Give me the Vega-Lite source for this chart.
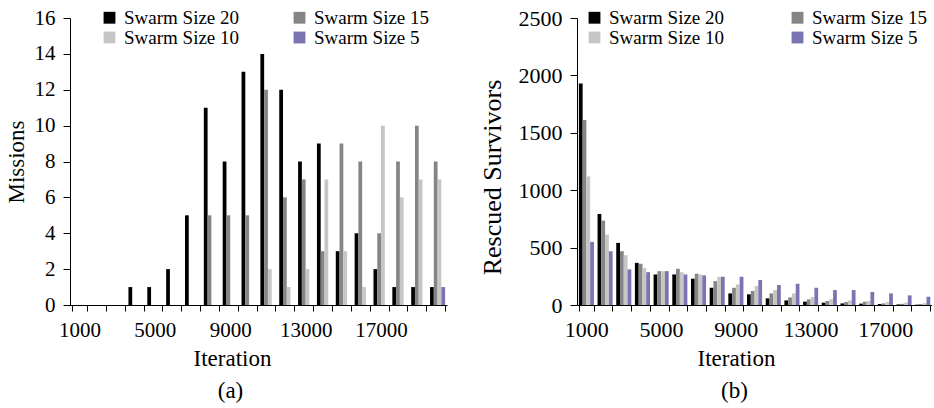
{
  "$schema": "https://vega.github.io/schema/vega-lite/v6.json",
  "padding": {"left": 5, "top": 7, "right": 0, "bottom": 0},
  "config": {
    "font": "Times New Roman, Liberation Serif, serif",
    "view": {"stroke": null},
    "axis": {"labelFont": "Times New Roman, Liberation Serif, serif", "titleFont": "Times New Roman, Liberation Serif, serif", "titleFontWeight": "normal", "labelColor": "black", "titleColor": "black", "domainColor": "black", "tickColor": "black", "grid": false, "tickSize": 6, "domainWidth": 1, "tickWidth": 1},
    "legend": {"labelFont": "Times New Roman, Liberation Serif, serif", "labelColor": "black"},
    "title": {"font": "Times New Roman, Liberation Serif, serif", "fontWeight": "normal", "color": "black"}
  },
  "datasets": {
    "missions": [
      {"iteration": 1000, "swarm": "Swarm Size 20", "missions": 0},
      {"iteration": 2000, "swarm": "Swarm Size 20", "missions": 0},
      {"iteration": 3000, "swarm": "Swarm Size 20", "missions": 0},
      {"iteration": 4000, "swarm": "Swarm Size 20", "missions": 1},
      {"iteration": 5000, "swarm": "Swarm Size 20", "missions": 1},
      {"iteration": 6000, "swarm": "Swarm Size 20", "missions": 2},
      {"iteration": 7000, "swarm": "Swarm Size 20", "missions": 5},
      {"iteration": 8000, "swarm": "Swarm Size 20", "missions": 11},
      {"iteration": 9000, "swarm": "Swarm Size 20", "missions": 8},
      {"iteration": 10000, "swarm": "Swarm Size 20", "missions": 13},
      {"iteration": 11000, "swarm": "Swarm Size 20", "missions": 14},
      {"iteration": 12000, "swarm": "Swarm Size 20", "missions": 12},
      {"iteration": 13000, "swarm": "Swarm Size 20", "missions": 8},
      {"iteration": 14000, "swarm": "Swarm Size 20", "missions": 9},
      {"iteration": 15000, "swarm": "Swarm Size 20", "missions": 3},
      {"iteration": 16000, "swarm": "Swarm Size 20", "missions": 4},
      {"iteration": 17000, "swarm": "Swarm Size 20", "missions": 2},
      {"iteration": 18000, "swarm": "Swarm Size 20", "missions": 1},
      {"iteration": 19000, "swarm": "Swarm Size 20", "missions": 1},
      {"iteration": 20000, "swarm": "Swarm Size 20", "missions": 1},
      {"iteration": 1000, "swarm": "Swarm Size 15", "missions": 0},
      {"iteration": 2000, "swarm": "Swarm Size 15", "missions": 0},
      {"iteration": 3000, "swarm": "Swarm Size 15", "missions": 0},
      {"iteration": 4000, "swarm": "Swarm Size 15", "missions": 0},
      {"iteration": 5000, "swarm": "Swarm Size 15", "missions": 0},
      {"iteration": 6000, "swarm": "Swarm Size 15", "missions": 0},
      {"iteration": 7000, "swarm": "Swarm Size 15", "missions": 0},
      {"iteration": 8000, "swarm": "Swarm Size 15", "missions": 5},
      {"iteration": 9000, "swarm": "Swarm Size 15", "missions": 5},
      {"iteration": 10000, "swarm": "Swarm Size 15", "missions": 5},
      {"iteration": 11000, "swarm": "Swarm Size 15", "missions": 12},
      {"iteration": 12000, "swarm": "Swarm Size 15", "missions": 6},
      {"iteration": 13000, "swarm": "Swarm Size 15", "missions": 7},
      {"iteration": 14000, "swarm": "Swarm Size 15", "missions": 3},
      {"iteration": 15000, "swarm": "Swarm Size 15", "missions": 9},
      {"iteration": 16000, "swarm": "Swarm Size 15", "missions": 8},
      {"iteration": 17000, "swarm": "Swarm Size 15", "missions": 4},
      {"iteration": 18000, "swarm": "Swarm Size 15", "missions": 8},
      {"iteration": 19000, "swarm": "Swarm Size 15", "missions": 10},
      {"iteration": 20000, "swarm": "Swarm Size 15", "missions": 8},
      {"iteration": 1000, "swarm": "Swarm Size 10", "missions": 0},
      {"iteration": 2000, "swarm": "Swarm Size 10", "missions": 0},
      {"iteration": 3000, "swarm": "Swarm Size 10", "missions": 0},
      {"iteration": 4000, "swarm": "Swarm Size 10", "missions": 0},
      {"iteration": 5000, "swarm": "Swarm Size 10", "missions": 0},
      {"iteration": 6000, "swarm": "Swarm Size 10", "missions": 0},
      {"iteration": 7000, "swarm": "Swarm Size 10", "missions": 0},
      {"iteration": 8000, "swarm": "Swarm Size 10", "missions": 0},
      {"iteration": 9000, "swarm": "Swarm Size 10", "missions": 0},
      {"iteration": 10000, "swarm": "Swarm Size 10", "missions": 0},
      {"iteration": 11000, "swarm": "Swarm Size 10", "missions": 2},
      {"iteration": 12000, "swarm": "Swarm Size 10", "missions": 1},
      {"iteration": 13000, "swarm": "Swarm Size 10", "missions": 2},
      {"iteration": 14000, "swarm": "Swarm Size 10", "missions": 7},
      {"iteration": 15000, "swarm": "Swarm Size 10", "missions": 3},
      {"iteration": 16000, "swarm": "Swarm Size 10", "missions": 1},
      {"iteration": 17000, "swarm": "Swarm Size 10", "missions": 10},
      {"iteration": 18000, "swarm": "Swarm Size 10", "missions": 6},
      {"iteration": 19000, "swarm": "Swarm Size 10", "missions": 7},
      {"iteration": 20000, "swarm": "Swarm Size 10", "missions": 7},
      {"iteration": 1000, "swarm": "Swarm Size 5", "missions": 0},
      {"iteration": 2000, "swarm": "Swarm Size 5", "missions": 0},
      {"iteration": 3000, "swarm": "Swarm Size 5", "missions": 0},
      {"iteration": 4000, "swarm": "Swarm Size 5", "missions": 0},
      {"iteration": 5000, "swarm": "Swarm Size 5", "missions": 0},
      {"iteration": 6000, "swarm": "Swarm Size 5", "missions": 0},
      {"iteration": 7000, "swarm": "Swarm Size 5", "missions": 0},
      {"iteration": 8000, "swarm": "Swarm Size 5", "missions": 0},
      {"iteration": 9000, "swarm": "Swarm Size 5", "missions": 0},
      {"iteration": 10000, "swarm": "Swarm Size 5", "missions": 0},
      {"iteration": 11000, "swarm": "Swarm Size 5", "missions": 0},
      {"iteration": 12000, "swarm": "Swarm Size 5", "missions": 0},
      {"iteration": 13000, "swarm": "Swarm Size 5", "missions": 0},
      {"iteration": 14000, "swarm": "Swarm Size 5", "missions": 0},
      {"iteration": 15000, "swarm": "Swarm Size 5", "missions": 0},
      {"iteration": 16000, "swarm": "Swarm Size 5", "missions": 0},
      {"iteration": 17000, "swarm": "Swarm Size 5", "missions": 0},
      {"iteration": 18000, "swarm": "Swarm Size 5", "missions": 0},
      {"iteration": 19000, "swarm": "Swarm Size 5", "missions": 0},
      {"iteration": 20000, "swarm": "Swarm Size 5", "missions": 1}
    ],
    "rescued": [
      {"iteration": 1000, "swarm": "Swarm Size 20", "survivors": 1930},
      {"iteration": 2000, "swarm": "Swarm Size 20", "survivors": 793},
      {"iteration": 3000, "swarm": "Swarm Size 20", "survivors": 541},
      {"iteration": 4000, "swarm": "Swarm Size 20", "survivors": 367},
      {"iteration": 5000, "swarm": "Swarm Size 20", "survivors": 266},
      {"iteration": 6000, "swarm": "Swarm Size 20", "survivors": 266},
      {"iteration": 7000, "swarm": "Swarm Size 20", "survivors": 229},
      {"iteration": 8000, "swarm": "Swarm Size 20", "survivors": 150},
      {"iteration": 9000, "swarm": "Swarm Size 20", "survivors": 101},
      {"iteration": 10000, "swarm": "Swarm Size 20", "survivors": 93},
      {"iteration": 11000, "swarm": "Swarm Size 20", "survivors": 58},
      {"iteration": 12000, "swarm": "Swarm Size 20", "survivors": 40},
      {"iteration": 13000, "swarm": "Swarm Size 20", "survivors": 29},
      {"iteration": 14000, "swarm": "Swarm Size 20", "survivors": 20},
      {"iteration": 15000, "swarm": "Swarm Size 20", "survivors": 14},
      {"iteration": 16000, "swarm": "Swarm Size 20", "survivors": 12},
      {"iteration": 17000, "swarm": "Swarm Size 20", "survivors": 9},
      {"iteration": 18000, "swarm": "Swarm Size 20", "survivors": 5},
      {"iteration": 19000, "swarm": "Swarm Size 20", "survivors": 3},
      {"iteration": 1000, "swarm": "Swarm Size 15", "survivors": 1612},
      {"iteration": 2000, "swarm": "Swarm Size 15", "survivors": 735},
      {"iteration": 3000, "swarm": "Swarm Size 15", "survivors": 469},
      {"iteration": 4000, "swarm": "Swarm Size 15", "survivors": 359},
      {"iteration": 5000, "swarm": "Swarm Size 15", "survivors": 295},
      {"iteration": 6000, "swarm": "Swarm Size 15", "survivors": 315},
      {"iteration": 7000, "swarm": "Swarm Size 15", "survivors": 272},
      {"iteration": 8000, "swarm": "Swarm Size 15", "survivors": 208},
      {"iteration": 9000, "swarm": "Swarm Size 15", "survivors": 150},
      {"iteration": 10000, "swarm": "Swarm Size 15", "survivors": 122},
      {"iteration": 11000, "swarm": "Swarm Size 15", "survivors": 101},
      {"iteration": 12000, "swarm": "Swarm Size 15", "survivors": 66},
      {"iteration": 13000, "swarm": "Swarm Size 15", "survivors": 49},
      {"iteration": 14000, "swarm": "Swarm Size 15", "survivors": 35},
      {"iteration": 15000, "swarm": "Swarm Size 15", "survivors": 26},
      {"iteration": 16000, "swarm": "Swarm Size 15", "survivors": 29},
      {"iteration": 17000, "swarm": "Swarm Size 15", "survivors": 14},
      {"iteration": 18000, "swarm": "Swarm Size 15", "survivors": 10},
      {"iteration": 19000, "swarm": "Swarm Size 15", "survivors": 8},
      {"iteration": 1000, "swarm": "Swarm Size 10", "survivors": 1120},
      {"iteration": 2000, "swarm": "Swarm Size 10", "survivors": 613},
      {"iteration": 3000, "swarm": "Swarm Size 10", "survivors": 434},
      {"iteration": 4000, "swarm": "Swarm Size 10", "survivors": 324},
      {"iteration": 5000, "swarm": "Swarm Size 10", "survivors": 295},
      {"iteration": 6000, "swarm": "Swarm Size 10", "survivors": 286},
      {"iteration": 7000, "swarm": "Swarm Size 10", "survivors": 266},
      {"iteration": 8000, "swarm": "Swarm Size 10", "survivors": 246},
      {"iteration": 9000, "swarm": "Swarm Size 10", "survivors": 179},
      {"iteration": 10000, "swarm": "Swarm Size 10", "survivors": 165},
      {"iteration": 11000, "swarm": "Swarm Size 10", "survivors": 130},
      {"iteration": 12000, "swarm": "Swarm Size 10", "survivors": 100},
      {"iteration": 13000, "swarm": "Swarm Size 10", "survivors": 70},
      {"iteration": 14000, "swarm": "Swarm Size 10", "survivors": 50},
      {"iteration": 15000, "swarm": "Swarm Size 10", "survivors": 40},
      {"iteration": 16000, "swarm": "Swarm Size 10", "survivors": 35},
      {"iteration": 17000, "swarm": "Swarm Size 10", "survivors": 25},
      {"iteration": 18000, "swarm": "Swarm Size 10", "survivors": 20},
      {"iteration": 19000, "swarm": "Swarm Size 10", "survivors": 15},
      {"iteration": 1000, "swarm": "Swarm Size 5", "survivors": 550},
      {"iteration": 2000, "swarm": "Swarm Size 5", "survivors": 469},
      {"iteration": 3000, "swarm": "Swarm Size 5", "survivors": 310},
      {"iteration": 4000, "swarm": "Swarm Size 5", "survivors": 286},
      {"iteration": 5000, "swarm": "Swarm Size 5", "survivors": 295},
      {"iteration": 6000, "swarm": "Swarm Size 5", "survivors": 266},
      {"iteration": 7000, "swarm": "Swarm Size 5", "survivors": 258},
      {"iteration": 8000, "swarm": "Swarm Size 5", "survivors": 246},
      {"iteration": 9000, "swarm": "Swarm Size 5", "survivors": 246},
      {"iteration": 10000, "swarm": "Swarm Size 5", "survivors": 217},
      {"iteration": 11000, "swarm": "Swarm Size 5", "survivors": 174},
      {"iteration": 12000, "swarm": "Swarm Size 5", "survivors": 185},
      {"iteration": 13000, "swarm": "Swarm Size 5", "survivors": 150},
      {"iteration": 14000, "swarm": "Swarm Size 5", "survivors": 130},
      {"iteration": 15000, "swarm": "Swarm Size 5", "survivors": 130},
      {"iteration": 16000, "swarm": "Swarm Size 5", "survivors": 113},
      {"iteration": 17000, "swarm": "Swarm Size 5", "survivors": 101},
      {"iteration": 18000, "swarm": "Swarm Size 5", "survivors": 84},
      {"iteration": 19000, "swarm": "Swarm Size 5", "survivors": 72}
    ]
  },
  "spacing": 32,
  "resolve": {"scale": {"color": "independent"}, "legend": {"color": "independent"}},
  "hconcat": [
    {
      "width": 377,
      "height": 287,
      "data": {"name": "missions"},
      "title": {"text": "(a)", "orient": "bottom", "anchor": "middle", "dx": -28, "fontSize": 23, "offset": 10},
      "mark": {"type": "bar"},
      "encoding": {
        "x": {"field": "iteration", "type": "ordinal",
          "scale": {"paddingInner": 0.2, "paddingOuter": 0.1},
          "axis": {"title": "Iteration", "titleFontSize": 23, "titleX": 162, "titlePadding": 7, "labelFontSize": 21, "labelAngle": 0, "labelPadding": 8, "tickBand": "extent", "labelOverlap": false, "labelBound": false, "labelExpr": "datum.value % 4000 == 1000 ? datum.label : ''"}},
        "xOffset": {"field": "swarm", "type": "nominal", "sort": ["Swarm Size 20", "Swarm Size 15", "Swarm Size 10", "Swarm Size 5"], "scale": {"paddingInner": 0, "paddingOuter": 0}},
        "y": {"field": "missions", "type": "quantitative",
          "scale": {"domain": [0, 16], "nice": false},
          "axis": {"title": "Missions", "titleFontSize": 23, "titlePadding": 6, "labelFontSize": 21, "labelPadding": 8, "tickSize": 7, "values": [0, 2, 4, 6, 8, 10, 12, 14, 16]}},
        "color": {"field": "swarm", "type": "nominal",
          "scale": {"domain": ["Swarm Size 20", "Swarm Size 15", "Swarm Size 10", "Swarm Size 5"], "range": ["#000000", "#858585", "#c6c6c6", "#7a74b0"]},
          "legend": {"title": null, "orient": "none", "legendX": 30, "legendY": -10, "columns": 2, "direction": "horizontal", "symbolType": "square", "symbolSize": 140, "symbolStrokeWidth": 0, "labelFont": "Times New Roman, Liberation Serif, serif", "labelFontSize": 19, "labelOffset": 5, "columnPadding": 50, "rowPadding": -3}}
      }
    },
    {
      "width": 355,
      "height": 287,
      "data": {"name": "rescued"},
      "title": {"text": "(b)", "orient": "bottom", "anchor": "middle", "dx": -20, "fontSize": 23, "offset": 10},
      "mark": {"type": "bar"},
      "encoding": {
        "x": {"field": "iteration", "type": "ordinal",
          "scale": {"paddingInner": 0.2, "paddingOuter": 0.1},
          "axis": {"title": "Iteration", "titleFontSize": 23, "titleX": 159, "titlePadding": 7, "labelFontSize": 22, "labelAngle": 0, "labelPadding": 8, "tickBand": "extent", "labelOverlap": false, "labelBound": false, "labelExpr": "datum.value % 4000 == 1000 ? datum.label : ''"}},
        "xOffset": {"field": "swarm", "type": "nominal", "sort": ["Swarm Size 20", "Swarm Size 15", "Swarm Size 10", "Swarm Size 5"], "scale": {"paddingInner": 0, "paddingOuter": 0}},
        "y": {"field": "survivors", "type": "quantitative",
          "scale": {"domain": [0, 2500], "nice": false},
          "axis": {"title": "Rescued Survivors", "titleFontSize": 26, "titleY": 159, "titlePadding": 13, "labelFontSize": 22, "labelPadding": 8, "tickSize": 7, "format": "d", "values": [0, 500, 1000, 1500, 2000, 2500]}},
        "color": {"field": "swarm", "type": "nominal",
          "scale": {"domain": ["Swarm Size 20", "Swarm Size 15", "Swarm Size 10", "Swarm Size 5"], "range": ["#000000", "#858585", "#c6c6c6", "#7a74b0"]},
          "legend": {"title": null, "orient": "none", "legendX": 8, "legendY": -10, "columns": 2, "direction": "horizontal", "symbolType": "square", "symbolSize": 140, "symbolStrokeWidth": 0, "labelFont": "Times New Roman, Liberation Serif, serif", "labelFontSize": 19, "labelOffset": 5, "columnPadding": 63, "rowPadding": -3}}
      }
    }
  ]
}
